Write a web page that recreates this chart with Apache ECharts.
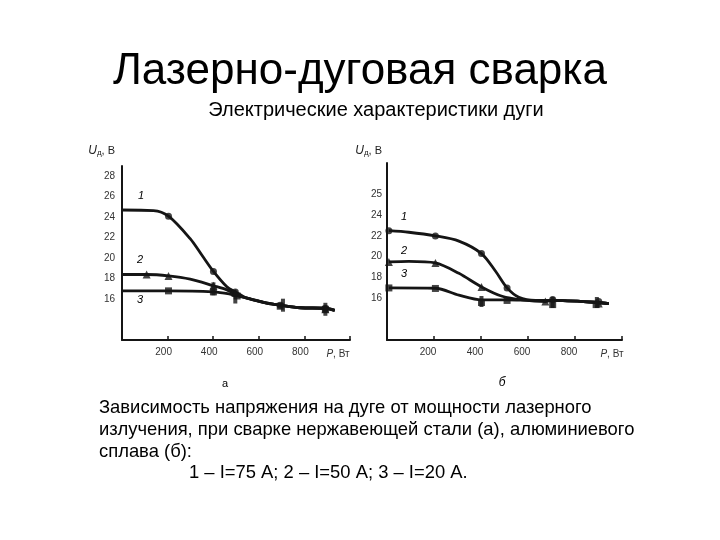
<!DOCTYPE html>
<html><head><meta charset="utf-8">
<script src="https://cdn.jsdelivr.net/npm/echarts@6/dist/echarts.min.js"></script>
<style>html,body{margin:0;padding:0;background:#fff}#c{width:720px;height:540px}</style>
</head><body><div id="c"></div>
<script>
// ---- data ----
// (а) stainless steel
const pA1 = [0, 138, 204, 299, 350, 401, 460, 497, 548, 636, 694, 782, 892, 933];
const uA1 = [24.7, 24.65, 24.1, 21.9, 20.3, 18.7, 17.2, 16.7, 16.1, 15.6, 15.4, 15.15, 15.1, 14.9];
const pA2 = [0, 108, 204, 299, 401, 460, 506, 548, 636, 694, 782, 892, 933];
const uA2 = [18.4, 18.4, 18.27, 17.95, 17.3, 16.9, 16.4, 16.1, 15.6, 15.4, 15.15, 15.1, 14.9];
const pA3 = [0, 204, 401, 470, 505, 548, 636, 694, 782, 892, 933];
const uA3 = [16.8, 16.8, 16.7, 16.5, 16.3, 16.1, 15.6, 15.4, 15.15, 15.1, 14.9];
const mkA1p = [204, 401, 497, 694, 892], mkA1u = [24.1, 18.7, 16.7, 15.4, 15.1];
const mkA2p = [108, 204, 401, 497, 892], mkA2u = [18.4, 18.25, 17.3, 16.6, 15.0];
const mkA3p = [204, 401, 505, 694, 892], mkA3u = [16.8, 16.7, 16.3, 15.3, 15.0];
const barA_p = [401, 497, 706, 892], barA_u = [17.0, 16.2, 15.4, 15.0];
// (б) aluminium alloy
const pB1 = [8, 93, 206, 306, 402, 462, 511, 561, 632, 705, 901, 944];
const uB1 = [22.5, 22.35, 22.0, 21.5, 20.3, 18.6, 17.0, 16.1, 15.8, 15.8, 15.6, 15.5];
const pB2 = [8, 93, 206, 306, 402, 490, 575, 674, 705, 901, 944];
const uB2 = [19.5, 19.55, 19.4, 18.4, 17.1, 16.2, 15.85, 15.7, 15.8, 15.6, 15.5];
const pB3 = [8, 206, 306, 402, 511, 632, 705, 901, 944];
const uB3 = [17.0, 16.97, 16.3, 15.85, 15.85, 15.8, 15.8, 15.6, 15.5];
const mkB1p = [8, 206, 402, 511, 705, 901], mkB1u = [22.5, 22.0, 20.3, 17.0, 15.9, 15.7];
const mkB2p = [8, 206, 402, 674, 901], mkB2u = [19.5, 19.4, 17.1, 15.7, 15.5];
const mkB3p = [8, 206, 402, 511, 705, 890], mkB3u = [17.0, 16.95, 15.6, 15.8, 15.4, 15.4];
const barB_p = [402, 705, 893], barB_u = [15.7, 15.6, 15.6];
// tick labels
const xTicks = {200: '200', 400: '400', 600: '600', 800: '800'};
const yTicksA = {16: '16', 18: '18', 20: '20', 22: '22', 24: '24', 26: '26', 28: '28'};
const yTicksB = {16: '16', 18: '18', 20: '20', 22: '22', 24: '24', 26: '25'};
const curveNames = ['1', '2', '3'];

const zip = (a, b) => a.map((v, i) => [v, b[i]]);
const ink = '#151515';
const FONT = '"Liberation Sans", Arial, sans-serif';

function xAxis(gi, shift, nameGap) {
  return {
    gridIndex: gi, type: 'value', min: 0, max: 1000, interval: 200,
    axisLine: {lineStyle: {color: ink, width: 2}},
    axisTick: {inside: true, length: 4, lineStyle: {color: ink, width: 1.5}},
    splitLine: {show: false},
    axisLabel: {margin: 7, fontSize: 10, color: '#333', fontFamily: FONT, padding: [0, shift, 0, 0],
      formatter: v => xTicks[v] || ''},
    name: '{i|P}, Вт', nameLocation: 'end', nameGap: nameGap,
    nameTextStyle: {verticalAlign: 'top', align: 'center', padding: [9, 0, 0, 0],
      fontSize: 10, color: '#333', fontFamily: FONT,
      rich: {i: {fontStyle: 'italic', fontSize: 10, color: '#333', fontFamily: FONT}}}
  };
}
function yAxis(gi, ticks, margin, nameGap, namePad) {
  return {
    gridIndex: gi, type: 'value', min: 12, max: 29, interval: 2,
    axisLine: {lineStyle: {color: ink, width: 2}},
    axisTick: {show: false},
    splitLine: {show: false},
    axisLabel: {margin: margin, fontSize: 10, color: '#333', fontFamily: FONT,
      formatter: v => ticks[v] || ''},
    name: '{u|U}{s|д}, В', nameLocation: 'end', nameGap: nameGap,
    nameTextStyle: {align: 'right', padding: [0, namePad, 0, 0], fontSize: 11, color: '#222', fontFamily: FONT,
      rich: {u: {fontStyle: 'italic', fontSize: 12, color: '#222', fontFamily: FONT},
             s: {fontSize: 8, color: '#222', fontFamily: FONT, verticalAlign: 'bottom', padding: [4, 0, 0, 0]}}}
  };
}
function curve(gi, p, u) {
  return {type: 'line', xAxisIndex: gi, yAxisIndex: gi, data: zip(p, u), smooth: 0.3,
    showSymbol: false, lineStyle: {color: ink, width: 2.8}, silent: true, z: 2};
}
function marks(gi, p, u, sym, size) {
  return {type: 'scatter', xAxisIndex: gi, yAxisIndex: gi, data: zip(p, u), symbol: sym,
    symbolSize: size, itemStyle: {color: ink}, silent: true, z: 3};
}

const txt = (x, y, text, font, align) => ({type: 'text', x: x, y: y,
  style: {text: text, font: font, fill: '#000', align: align || 'left', verticalAlign: 'middle'}});

const chart = echarts.init(document.getElementById('c'), null, {renderer: 'canvas'});
chart.setOption({
  animation: false,
  backgroundColor: '#fff',
  grid: [
    {left: 122, top: 166, width: 228, height: 174},
    {left: 387, top: 163, width: 235, height: 177}
  ],
  xAxis: [xAxis(0, 8, -12), xAxis(1, 12, -10)],
  yAxis: [yAxis(0, yTicksA, 7, 9, 7), yAxis(1, yTicksB, 5, 6, 5)],
  series: [
    curve(0, pA1, uA1), curve(0, pA2, uA2), curve(0, pA3, uA3),
    marks(0, mkA1p, mkA1u, 'circle', 7), marks(0, mkA2p, mkA2u, 'triangle', 8), marks(0, mkA3p, mkA3u, 'rect', 7),
    marks(0, barA_p, barA_u, 'rect', [4, 13]),
    curve(1, pB1, uB1), curve(1, pB2, uB2), curve(1, pB3, uB3),
    marks(1, mkB1p, mkB1u, 'circle', 7), marks(1, mkB2p, mkB2u, 'triangle', 8), marks(1, mkB3p, mkB3u, 'rect', 7),
    marks(1, barB_p, barB_u, 'rect', [4, 11])
  ],
  graphic: [
    txt(360, 72, 'Лазерно-дуговая сварка', '44px ' + FONT, 'center'),
    txt(376, 110, 'Электрические характеристики дуги', '20px ' + FONT, 'center'),
    txt(138, 196, curveNames[0], 'italic 11px ' + FONT),
    txt(137, 260, curveNames[1], 'italic 11px ' + FONT),
    txt(137, 300, curveNames[2], 'italic 11px ' + FONT),
    txt(401, 217, curveNames[0], 'italic 11px ' + FONT),
    txt(401, 251, curveNames[1], 'italic 11px ' + FONT),
    txt(401, 274, curveNames[2], 'italic 11px ' + FONT),
    txt(225, 384, 'а', '11px ' + FONT, 'center'),
    txt(502, 383, 'б', 'italic 12px ' + FONT, 'center'),
    txt(99, 408, 'Зависимость напряжения на дуге от мощности лазерного', '18.4px ' + FONT),
    txt(99, 430, 'излучения, при сварке нержавеющей стали (а), алюминиевого', '18.4px ' + FONT),
    txt(99, 452, 'сплава (б):', '18.4px ' + FONT),
    txt(189, 473, '1 – I=75 А; 2 – I=50 А; 3 – I=20 А.', '18.4px ' + FONT)
  ]
});
</script></body></html>
